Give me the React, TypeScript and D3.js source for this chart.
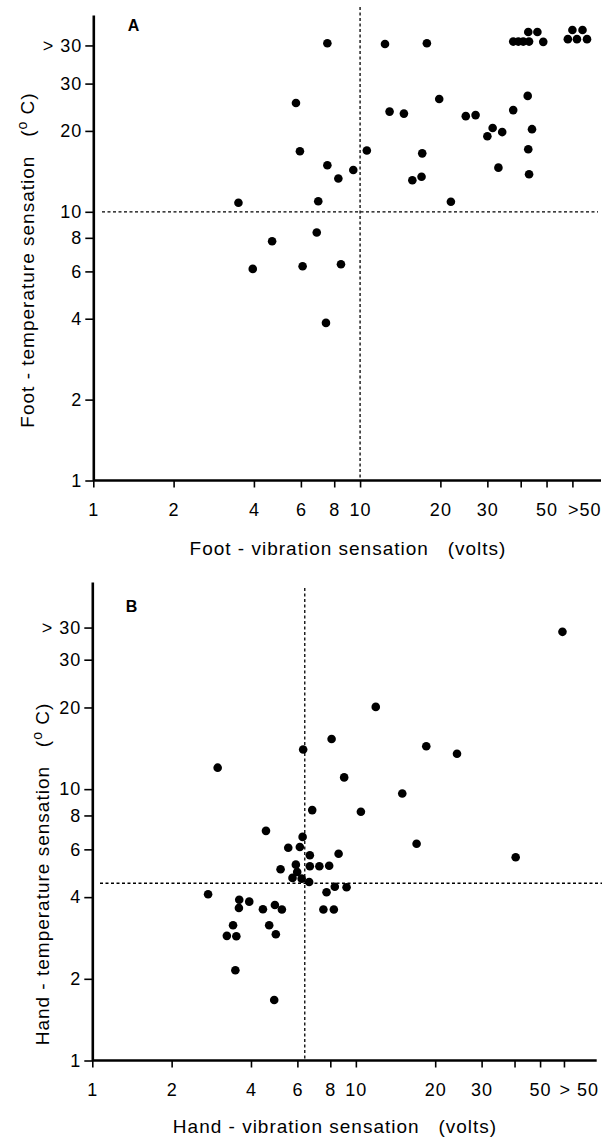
import React, { useEffect, useRef } from "react";
import * as d3 from "d3";

// Panel A: foot thresholds (vibration in volts, temperature in deg C)
const footVibration = [
  3.5, 5.75, 5.95, 6.97, 6.88, 4.68, 3.96, 6.09, 8.48, 7.45,
  7.54, 12.4, 17.8, 37.5, 39.2, 40.9, 43.0, 42.7, 46.2, 48.6,
  60.1, 65.0, 70.9, 62.5, 68.2,
  12.9, 14.6, 19.8, 24.9, 27.1, 37.5, 42.5, 31.4, 30.0, 34.1,
  44.1, 42.7, 33.0, 43.0, 10.6, 17.1, 15.7, 17.0, 7.54, 8.29,
  9.43, 21.9,
];
const footTemperature = [
  10.8, 25.4, 16.8, 10.95, 8.37, 7.77, 6.13, 6.27, 6.38, 3.86,
  42.4, 42.1, 42.4, 43.0, 43.0, 43.0, 43.0, 46.7, 46.7, 42.9,
  43.9, 43.9, 43.9, 47.5, 47.5,
  23.6, 23.2, 26.3, 22.7, 22.9, 23.9, 27.0, 20.5, 19.1, 19.8,
  20.3, 17.1, 14.6, 13.8, 16.9, 16.5, 13.1, 13.5, 14.9, 13.3,
  14.3, 10.9,
];

// Panel B: hand thresholds
const handVibration = [
  2.99, 6.31, 6.83, 4.56, 6.28, 5.54, 6.13, 6.69, 60.8, 11.9,
  8.09, 18.5, 24.2, 9.03, 15.0, 10.45, 17.0, 8.6, 40.4, 6.69,
  7.27, 7.92, 5.92, 5.18, 5.99, 5.75, 6.23, 6.65, 8.32, 9.22,
  7.74, 7.53, 8.25, 2.75, 3.61, 3.94, 3.6, 4.44, 4.93, 5.24,
  3.42, 4.69, 3.24, 3.52, 4.97, 3.49, 4.9,
];
const handTemperature = [
  12.0, 14.0, 8.37, 7.02, 6.67, 6.08, 6.12, 5.71, 38.0, 20.1,
  15.3, 14.4, 13.5, 11.05, 9.64, 8.25, 6.29, 5.78, 5.61, 5.2,
  5.2, 5.22, 5.27, 5.07, 4.95, 4.71, 4.68, 4.55, 4.37, 4.35,
  4.17, 3.6, 3.6, 4.1, 3.91, 3.85, 3.65, 3.61, 3.74, 3.6,
  3.15, 3.15, 2.88, 2.87, 2.92, 2.15, 1.67,
];

// cut-off lines
const footVibCut = 10;
const footTempCut = 10;
const handVibCut = 6.4;
const handTempCut = 4.5;

// ticks (the last one is the off-scale ">" position)
const footXTicks = [1, 2, 4, 6, 8, 10, 20, 30, 40, 50, 62.5];
const handXTicks = [1, 2, 4, 6, 8, 10, 20, 30, 40, 50, 61.6];
const footXLabels = ["1", "2", "4", "6", "8", "10", "20", "30", "", "50", ">50"];
const handXLabels = ["1", "2", "4", "6", "8", "10", "20", "30", "", "50", "> 50"];
const footYTicks = [1, 2, 4, 6, 8, 10, 20, 30, 41.6];
const handYTicks = [1, 2, 4, 6, 8, 10, 20, 30, 39.4];
const yLabels = ["1", "2", "4", "6", "8", "10", "20", "30", "> 30"];

const FONT = "'Liberation Sans', Arial, Helvetica, sans-serif";

const panels = [
  {
    vib: footVibration, temp: footTemperature, vibCut: footVibCut, tempCut: footTempCut,
    xTicks: footXTicks, xLabels: footXLabels, yTicks: footYTicks,
    letter: "A", xTitle: "Foot - vibration sensation   (volts)", yTitle: "Foot - temperature sensation   (",
    f: { left: 93.3, right: 601, top: 15, bottom: 480.5, xMax: 80, yMax: 54,
      letterX: 133.5, letterY: 25, xTitleX: 348, xTitleY: 548, yTitleX: 34, yTitleY: 260,
      vTop: 7, hLeft: 102, hRight: 598 },
  },
  {
    vib: handVibration, temp: handTemperature, vibCut: handVibCut, tempCut: handTempCut,
    xTicks: handXTicks, xLabels: handXLabels, yTicks: handYTicks,
    letter: "B", xTitle: "Hand - vibration sensation   (volts)", yTitle: "Hand - temperature sensation   (",
    f: { left: 92.3, right: 596.7, top: 582, bottom: 1060.5, xMax: 82, yMax: 58,
      letterX: 131.5, letterY: 606, xTitleX: 335, xTitleY: 1126.5, yTitleX: 49, yTitleY: 874,
      vTop: 588, hLeft: 100, hRight: 602 },
  },
];

function drawPanel(svg: any, p: any) {
  const f = p.f;
  const x = d3.scaleLog().domain([1, f.xMax]).range([f.left, f.right]);
  const y = d3.scaleLog().domain([1, f.yMax]).range([f.bottom, f.top]);
  const g = svg.append("g");

  // dashed cut-off lines
  g.append("line")
    .attr("x1", x(p.vibCut)).attr("x2", x(p.vibCut))
    .attr("y1", f.vTop).attr("y2", f.bottom)
    .attr("stroke", "#000").attr("stroke-width", 1.3).attr("stroke-dasharray", "3,2.5");
  g.append("line")
    .attr("x1", f.hLeft).attr("x2", f.hRight)
    .attr("y1", y(p.tempCut)).attr("y2", y(p.tempCut))
    .attr("stroke", "#000").attr("stroke-width", 1.3).attr("stroke-dasharray", "3,2.5");

  const xAxis = d3.axisBottom(x)
    .tickValues(p.xTicks)
    .tickFormat((_d: any, i: number) => p.xLabels[i])
    .tickSize(7).tickSizeOuter(0).tickPadding(16);
  const gx = g.append("g").attr("transform", `translate(0,${f.bottom})`).call(xAxis);

  const yAxis = d3.axisLeft(y)
    .tickValues(p.yTicks)
    .tickFormat((_d: any, i: number) => yLabels[i])
    .tickSize(8).tickSizeOuter(0).tickPadding(3);
  const gy = g.append("g").attr("transform", `translate(${f.left},0)`).call(yAxis);

  [gx, gy].forEach((ax) => {
    ax.attr("font-size", 18).attr("font-family", FONT);
    ax.select(".domain").attr("stroke-width", 2.6);
    ax.selectAll(".tick line").attr("stroke-width", 1.6);
    ax.selectAll(".tick text").attr("letter-spacing", 1).attr("fill", "#000");
  });
  gx.select(".domain").attr("d", `M${f.left},0H${f.right}`);
  gx.selectAll(".tick text")
    .filter((_d: any, i: number) => i === p.xTicks.length - 1)
    .attr("text-anchor", "start").attr("x", -5);

  // points
  g.selectAll("circle.pt")
    .data(d3.zip(p.vib, p.temp))
    .join("circle")
    .attr("class", "pt")
    .attr("cx", (d: number[]) => x(d[0]))
    .attr("cy", (d: number[]) => y(d[1]))
    .attr("r", 4.3)
    .attr("fill", "#000");

  // panel letter
  g.append("text")
    .attr("x", f.letterX).attr("y", f.letterY + 6)
    .attr("text-anchor", "middle")
    .attr("font-family", FONT).attr("font-weight", "bold").attr("font-size", 16)
    .text(p.letter);

  // axis titles
  g.append("text")
    .attr("x", f.xTitleX).attr("y", f.xTitleY + 6.5)
    .attr("text-anchor", "middle")
    .attr("font-family", FONT).attr("font-size", 19).attr("letter-spacing", 1)
    .style("white-space", "pre")
    .text(p.xTitle);

  const yt = g.append("text")
    .attr("transform", `translate(${f.yTitleX},${f.yTitleY}) rotate(-90)`)
    .attr("text-anchor", "middle")
    .attr("font-family", FONT).attr("font-size", 19).attr("letter-spacing", 1)
    .style("white-space", "pre");
  yt.append("tspan").text(p.yTitle);
  yt.append("tspan").attr("dy", -7).attr("font-size", 14).text("o");
  yt.append("tspan").attr("dy", 7).text(" C)");
}

export default function App() {
  const svgRef = useRef<SVGSVGElement>(null);

  useEffect(() => {
    const svg = d3.select(svgRef.current);
    svg.selectAll("*").remove();
    panels.forEach((p) => drawPanel(svg, p));
  }, []);

  return (
    <svg
      ref={svgRef}
      width={610}
      height={1138}
      style={{ position: "absolute", left: 0, top: 0, background: "#fff" }}
    />
  );
}
